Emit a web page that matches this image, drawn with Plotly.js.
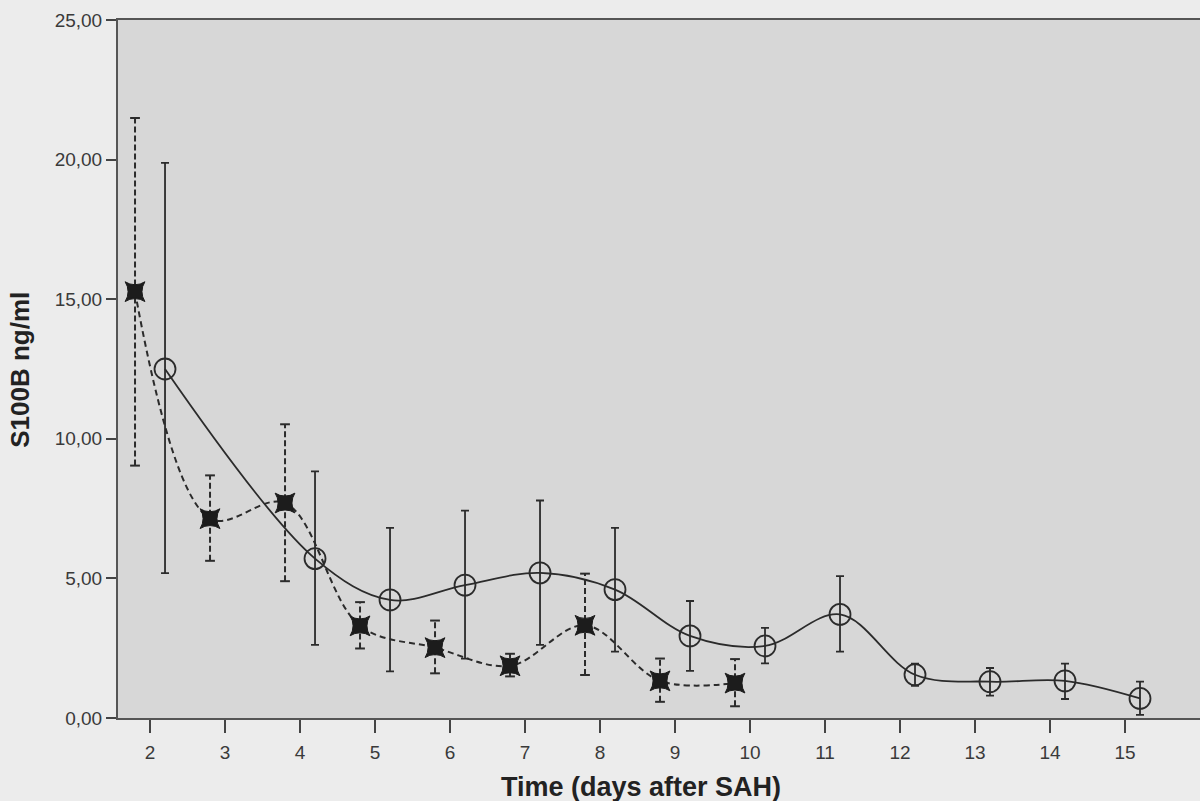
<!DOCTYPE html>
<html>
<head>
<meta charset="utf-8">
<script src="https://cdn.plot.ly/plotly-3.0.1.min.js"></script>
<style>html,body{margin:0;padding:0;background:#ececec;}#chart{width:1200px;height:801px;}</style>
</head>
<body>
<div id="chart"></div>
<script>
// Dashed series (square markers), days 2-10, drawn at day - 0.2
const daysA = [2, 3, 4, 5, 6, 7, 8, 9, 10];
const meanA = [15.27, 7.14, 7.70, 3.30, 2.52, 1.87, 3.32, 1.33, 1.25];
const upA   = [21.49, 8.69, 10.52, 4.15, 3.49, 2.30, 5.17, 2.13, 2.11];
const loA   = [9.04, 5.63, 4.90, 2.49, 1.60, 1.49, 1.54, 0.58, 0.42];

// Solid series (open circle markers), days 2,4-15, drawn at day + 0.2
const daysB = [2, 4, 5, 6, 7, 8, 9, 10, 11, 12, 13, 14, 15];
const meanB = [12.50, 5.71, 4.23, 4.76, 5.20, 4.60, 2.94, 2.58, 3.71, 1.55, 1.30, 1.33, 0.70];
const upB   = [19.88, 8.83, 6.81, 7.43, 7.79, 6.81, 4.19, 3.23, 5.08, 1.95, 1.79, 1.95, 1.30];
const loB   = [5.19, 2.62, 1.67, 2.13, 2.62, 2.38, 1.69, 1.96, 2.38, 1.15, 0.80, 0.68, 0.11];

const xTicks = [2, 3, 4, 5, 6, 7, 8, 9, 10, 11, 12, 13, 14, 15];
const yTicks = [0, 5, 10, 15, 20, 25];

const ink = '#2b2b2b';
const xA = daysA.map(d => d - 0.2);
const xB = daysB.map(d => d + 0.2);

// dashed error-bar stems for series A
const stemX = [], stemY = [];
xA.forEach((x, i) => { stemX.push(x, x, null); stemY.push(loA[i], upA[i], null); });

const traces = [
  { x: stemX, y: stemY, mode: 'lines', line: {color: ink, width: 2, dash: '6px,3px'}, hoverinfo: 'skip', showlegend: false },
  { x: xA.concat(xA), y: upA.concat(loA), mode: 'markers',
    marker: {symbol: 'line-ew', size: 7, line: {color: ink, width: 2}}, hoverinfo: 'skip', showlegend: false },
  { x: xA, y: meanA, mode: 'lines',
    line: {color: ink, width: 2, dash: '6px,4px', shape: 'spline', smoothing: 1}, showlegend: false },
  { x: xA, y: meanA, mode: 'markers',
    marker: {symbol: 'star-square', size: 18, color: '#1c1c1c', line: {color: '#1c1c1c', width: 1}}, showlegend: false },
  { x: xA, y: meanA, mode: 'markers',
    marker: {symbol: 'square', size: 12, color: '#1c1c1c', line: {width: 0}}, showlegend: false },
  { x: xB, y: meanB, mode: 'lines+markers',
    line: {color: ink, width: 1.8, shape: 'spline', smoothing: 1},
    marker: {symbol: 'circle-open', size: 21, color: ink, line: {color: ink, width: 1.8}},
    error_y: {type: 'data', symmetric: false,
      array: upB.map((u, i) => u - meanB[i]), arrayminus: loB.map((l, i) => meanB[i] - l),
      color: ink, thickness: 1.8, width: 4}, showlegend: false }
];

const layout = {
  width: 1200, height: 801,
  paper_bgcolor: '#ececec', plot_bgcolor: '#d7d7d7',
  margin: {l: 118, r: 0, t: 20, b: 83},
  separators: ',.',
  font: {family: 'Liberation Sans, Arial, sans-serif', color: '#333'},
  xaxis: {
    range: [1.573, 16.0], tickvals: xTicks, ticktext: xTicks.map(String),
    ticks: 'outside', ticklen: 13, tickwidth: 2, tickcolor: '#444',
    showline: true, linecolor: '#555', linewidth: 2, mirror: true,
    showgrid: false, zeroline: false, ticklabelstandoff: 3,
    tickfont: {size: 19, color: '#3a3a3a'}
  },
  yaxis: {
    range: [0, 25], tickvals: yTicks, tickformat: '.2f',
    ticks: 'outside', ticklen: 10, tickwidth: 2, tickcolor: '#444',
    showline: true, linecolor: '#555', linewidth: 2,
    showgrid: false, zeroline: false,
    tickfont: {size: 19, color: '#3a3a3a'}
  },
  annotations: [{
    text: '<b>Time (days after SAH)</b>', xref: 'paper', yref: 'paper',
    x: 0.483, y: -0.099, xanchor: 'center', yanchor: 'middle', showarrow: false,
    font: {size: 27, color: '#222'}
  }, {
    text: '<b>S100B ng/ml</b>', xref: 'paper', yref: 'paper', textangle: -90,
    x: -0.0905, y: 0.499, xanchor: 'center', yanchor: 'middle', showarrow: false,
    font: {size: 26, color: '#222'}
  }]
};

Plotly.newPlot('chart', traces, layout, {displayModeBar: false, staticPlot: true});
</script>
</body>
</html>
